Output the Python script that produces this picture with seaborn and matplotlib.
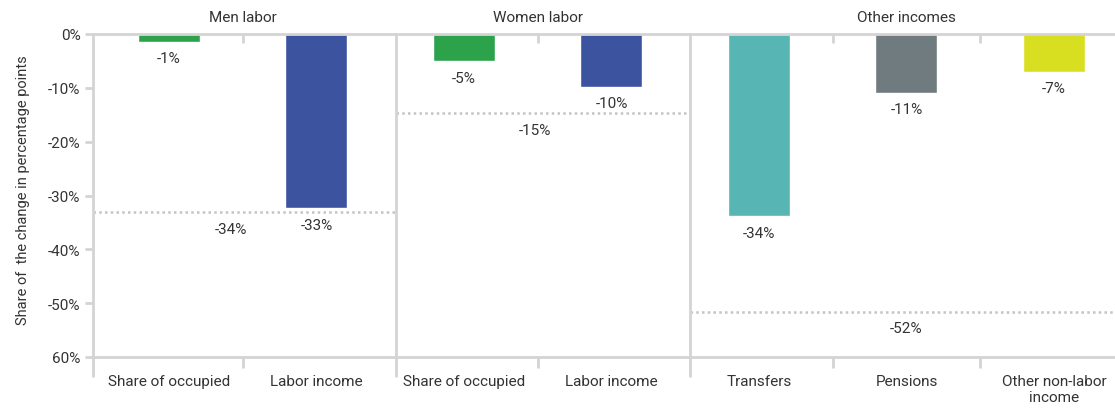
import matplotlib
matplotlib.use("Agg")
import matplotlib.pyplot as plt
import seaborn as sns
import pandas as pd

sns.set_theme(style="white")
plt.rcParams["font.family"] = ["Roboto", "DejaVu Sans"]

# data
groups = ["Men labor", "Women labor", "Other incomes"]
categories = ["Share of occupied", "Labor income", "Share of occupied", "Labor income",
              "Transfers", "Pensions", "Other non-labor\nincome"]
category_group = ["Men labor", "Men labor", "Women labor", "Women labor",
                  "Other incomes", "Other incomes", "Other incomes"]
values = [-1.4, -32.3, -5.0, -9.8, -33.8, -10.9, -7.0]
value_labels = ["-1%", "-33%", "-5%", "-10%", "-34%", "-11%", "-7%"]
group_totals = [-33.1, -14.7, -51.6]
total_labels = ["-34%", "-15%", "-52%"]
y_ticks = [0, -10, -20, -30, -40, -50, -60]
y_tick_labels = ["0%", "-10%", "-20%", "-30%", "-40%", "-50%", "60%"]
bar_colors = ["#2ca24b", "#3c53a0", "#2ca24b", "#3c53a0", "#57b5b4", "#707b80", "#d8df20"]

keys = [f"{g}|{c}" for g, c in zip(category_group, categories)]
df = pd.DataFrame({"key": keys, "value": values})

LINE = "#d4d4d4"
TEXT = "#333333"
FS = 11

fig = plt.figure(figsize=(11.15, 4.10), dpi=100)
ax = fig.add_axes([93 / 1115, 1 - 358 / 410, 1 - 93 / 1115, 323 / 410])

sns.barplot(data=df, x="key", y="value", hue="key", order=keys,
            palette=dict(zip(keys, bar_colors)), legend=False,
            width=0.42, saturation=1, ax=ax)

ax.set_ylim(-60, 0)
ax.set_xlim(-0.515, 6.414)

# bar value labels under each bar
for i, (v, lab) in enumerate(zip(values, value_labels)):
    ax.annotate(lab, (i, v), xytext=(0, -12), textcoords="offset points",
                ha="center", va="center", fontsize=FS, color=TEXT)

# panel boundaries (data x) and group totals
edges = [-0.515, 1.54, 3.53, 6.414]
total_x = [0.42, 2.48, 5.0]
title_x = [0.5, 2.5, 5.0]
for j, g in enumerate(groups):
    x0, x1 = edges[j], edges[j + 1]
    ax.plot([x0, x1], [group_totals[j]] * 2, color="#c4c4c4", lw=1.8,
            ls=(0, (1, 1.3)), zorder=1)
    ax.annotate(total_labels[j], (total_x[j], group_totals[j]), xytext=(0, -12),
                textcoords="offset points", ha="center", va="center",
                fontsize=FS, color=TEXT)
    ax.text(title_x[j], 3.2, g, ha="center", va="center",
            fontsize=FS, color=TEXT, clip_on=False)

# vertical separators running below the axis
for x in edges[:3]:
    ax.plot([x, x], [0, -63.5], color=LINE, lw=2, clip_on=False, zorder=3)

# small category-boundary ticks
for x in [0.5, 2.5, 4.5, 5.5]:
    ax.plot([x, x], [0, -1.5], color=LINE, lw=2, zorder=3)
ax.set_xticks([0.5, 2.5, 4.5, 5.5], minor=True)
ax.tick_params(axis="x", which="minor", length=8, width=2, color=LINE,
               direction="out", bottom=True)

ax.set_xticks(range(len(categories)))
ax.set_xticklabels(categories, fontsize=FS, color=TEXT, linespacing=1.25)
ax.tick_params(axis="x", which="major", length=0, pad=12)

ax.set_yticks(y_ticks)
ax.set_yticklabels(y_tick_labels, fontsize=FS, color=TEXT)
ax.tick_params(axis="y", length=6, width=2, color=LINE, direction="out", left=True, pad=3)

for side in ["left", "right"]:
    ax.spines[side].set_visible(False)
for side in ["top", "bottom"]:
    ax.spines[side].set_color(LINE)
    ax.spines[side].set_linewidth(2)

ax.set_xlabel("")
ax.set_ylabel("Share of  the change in percentage points", fontsize=10.5, color=TEXT)
ax.yaxis.set_label_coords(-0.062, 0.52)

fig.savefig("out.png", dpi=100)
